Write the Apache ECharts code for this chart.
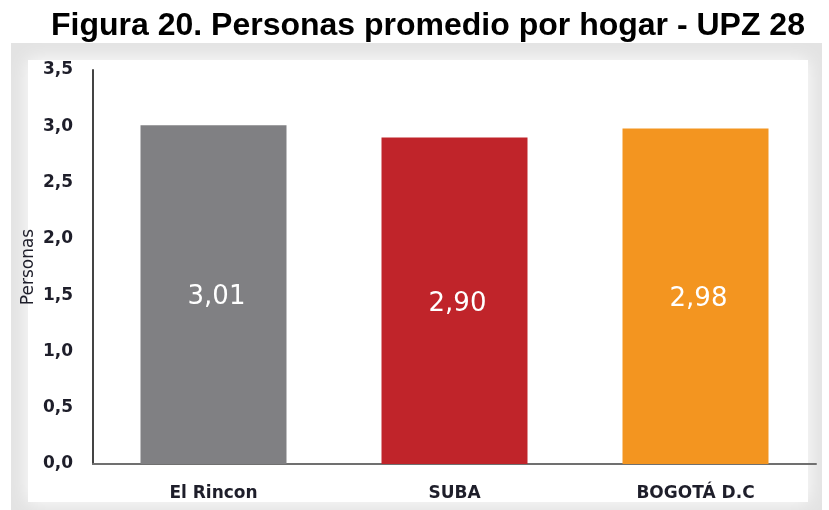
<!DOCTYPE html>
<html>
<head>
<meta charset="utf-8">
<script src="https://cdn.jsdelivr.net/npm/echarts@6/dist/echarts.min.js"></script>
<style>
  html, body { margin: 0; padding: 0; background: #fff; }
  #chart { width: 829px; height: 510px; }
</style>
</head>
<body>
<div id="chart"></div>
<script>
const categories = ['El Rincon', 'SUBA', 'BOGOTÁ D.C']
const values = [3.01, 2.90, 2.98]
const barColors = ['#808083', '#c0242a', '#f39520']
const yTicks = { min: 0, max: 3.5, interval: 0.5 }

const comma = v => String(v.toFixed(2)).replace('.', ',')

const chart = echarts.init(document.getElementById('chart'))
chart.setOption({
  animation: false,
  title: {
    text: 'Figura 20. Personas promedio por hogar - UPZ 28',
    left: 46,
    top: 5,
    textStyle: {
      fontFamily: 'Liberation Sans',
      fontWeight: 'bold',
      fontSize: 32,
      color: '#000'
    }
  },
  graphic: [
    {
      type: 'rect',
      z: -10,
      shape: { x: 11, y: 43, width: 811, height: 470 },
      style: { fill: '#e3e3e3' }
    },
    {
      type: 'rect',
      z: -9,
      shape: { x: 28, y: 60, width: 780, height: 442 },
      style: { fill: '#ffffff', shadowBlur: 18, shadowColor: '#ffffff' }
    }
  ],
  grid: { left: 93, right: 13, top: 70, bottom: 46 },
  xAxis: {
    type: 'category',
    data: categories,
    axisTick: { show: false },
    axisLine: { lineStyle: { color: '#707070', width: 2 } },
    axisLabel: {
      color: '#1e1e2a',
      fontFamily: 'DejaVu Sans',
      fontWeight: 'bold',
      fontSize: 17,
      margin: 21
    }
  },
  yAxis: {
    type: 'value',
    min: yTicks.min,
    max: yTicks.max,
    interval: yTicks.interval,
    name: 'Personas',
    nameLocation: 'middle',
    nameMoveOverlap: false,
    nameGap: 56,
    nameTextStyle: { color: '#1e1e2a', fontFamily: 'DejaVu Sans', fontSize: 17 },
    splitLine: { show: false },
    axisTick: { show: false },
    axisLine: { show: true, lineStyle: { color: '#444', width: 2 } },
    axisLabel: {
      color: '#1e1e2a',
      fontFamily: 'DejaVu Sans',
      fontWeight: 'bold',
      fontSize: 17,
      margin: 20,
      formatter: v => v.toFixed(1).replace('.', ',')
    }
  },
  series: [{
    type: 'bar',
    barWidth: 146,
    data: values.map((v, i) => ({ value: v, itemStyle: { color: barColors[i] } })),
    label: {
      show: true,
      position: 'inside',
      offset: [3, 3],
      color: '#ffffff',
      fontFamily: 'DejaVu Sans',
      fontSize: 26,
      formatter: p => comma(p.value)
    }
  }]
})
</script>
</body>
</html>
